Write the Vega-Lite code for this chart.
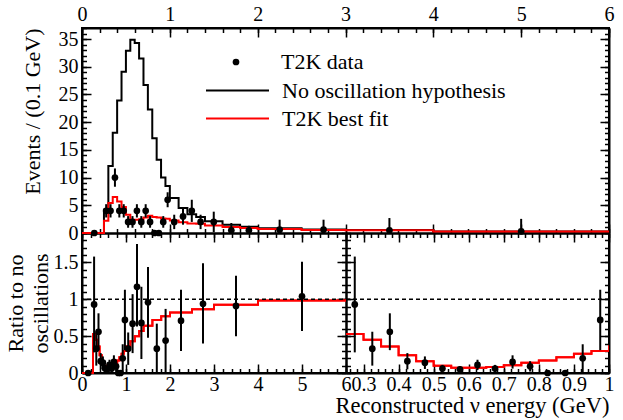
{
  "$schema": "https://vega.github.io/schema/vega-lite/v6.json",
  "width": 527,
  "height": 345,
  "autosize": {"type": "none"},
  "padding": {"left": 82, "top": 28, "right": 14, "bottom": 47},
  "background": "white",
  "config": {
    "view": {"stroke": "black", "strokeWidth": 2},
    "axis": {"domainColor": "black", "domainWidth": 2, "tickColor": "black", "tickWidth": 1.5, "labelFont": "Liberation Serif, serif", "labelFontSize": 20, "labelColor": "black", "titleFont": "Liberation Serif, serif", "titleFontSize": 22, "titleFontWeight": "normal", "titleColor": "black", "grid": false, "zindex": 1, "labelFlush": false, "labelOverlap": false},
    "legend": {"labelFont": "Liberation Serif, serif", "labelFontSize": 22, "labelColor": "black", "padding": 0, "labelLimit": 0}
  },
  "datasets": {
    "hist": [
      {"e": 0, "n": 0, "f": 0},
      {"e": 0.25, "n": 4.2, "f": 2.2},
      {"e": 0.3, "n": 12.1, "f": 5.4},
      {"e": 0.35, "n": 18.1, "f": 6.5},
      {"e": 0.4, "n": 23.9, "f": 5.7},
      {"e": 0.45, "n": 29.1, "f": 4.7},
      {"e": 0.5, "n": 32.9, "f": 3.3},
      {"e": 0.55, "n": 34.9, "f": 2.4},
      {"e": 0.6, "n": 34.3, "f": 2.4},
      {"e": 0.65, "n": 31.5, "f": 2.5},
      {"e": 0.7, "n": 26.7, "f": 2.8},
      {"e": 0.75, "n": 22.3, "f": 3.1},
      {"e": 0.8, "n": 17.1, "f": 2.9},
      {"e": 0.85, "n": 13.2, "f": 2.8},
      {"e": 0.9, "n": 10.0, "f": 2.6},
      {"e": 0.95, "n": 8.5, "f": 2.55},
      {"e": 1.0, "n": 6.3, "f": 2.27},
      {"e": 1.1, "n": 4.5, "f": 1.94},
      {"e": 1.2, "n": 3.4, "f": 1.7},
      {"e": 1.3, "n": 2.9, "f": 1.65},
      {"e": 1.4, "n": 2.1, "f": 1.34},
      {"e": 1.6, "n": 1.5, "f": 1.08},
      {"e": 1.8, "n": 1.14, "f": 0.88},
      {"e": 2.0, "n": 0.85, "f": 0.7},
      {"e": 2.5, "n": 0.64, "f": 0.55},
      {"e": 3.0, "n": 0.55, "f": 0.51},
      {"e": 4.0, "n": 0.29, "f": 0.286},
      {"e": 6.0, "n": 0.29, "f": 0.286}
    ],
    "pts": [
      {"e": 0.14, "v": 0, "lo": 0, "hi": 0},
      {"e": 0.275, "v": 4, "lo": 2.8, "hi": 5.2},
      {"e": 0.325, "v": 4, "lo": 2.8, "hi": 5.2},
      {"e": 0.375, "v": 10, "lo": 8.35, "hi": 11.65},
      {"e": 0.425, "v": 4, "lo": 2.8, "hi": 5.2},
      {"e": 0.475, "v": 4, "lo": 2.8, "hi": 5.2},
      {"e": 0.525, "v": 2, "lo": 0.95, "hi": 3.05},
      {"e": 0.575, "v": 2, "lo": 0.95, "hi": 3.05},
      {"e": 0.625, "v": 4, "lo": 2.8, "hi": 5.2},
      {"e": 0.675, "v": 2, "lo": 0.95, "hi": 3.05},
      {"e": 0.725, "v": 4, "lo": 2.8, "hi": 5.2},
      {"e": 0.775, "v": 2, "lo": 0.95, "hi": 3.05},
      {"e": 0.825, "v": 0, "lo": 0, "hi": 0},
      {"e": 0.875, "v": 0, "lo": 0, "hi": 0},
      {"e": 0.925, "v": 2, "lo": 0.95, "hi": 3.05},
      {"e": 0.975, "v": 6, "lo": 4.65, "hi": 7.35},
      {"e": 1.05, "v": 2, "lo": 0.7, "hi": 3.3},
      {"e": 1.15, "v": 3, "lo": 1.5, "hi": 4.5},
      {"e": 1.25, "v": 4, "lo": 2.0, "hi": 6.0},
      {"e": 1.35, "v": 2, "lo": 0.7, "hi": 3.3},
      {"e": 1.5, "v": 2, "lo": 0.15, "hi": 3.85},
      {"e": 1.7, "v": 0.5, "lo": 0, "hi": 1.8},
      {"e": 1.9, "v": 0.5, "lo": 0, "hi": 1.3},
      {"e": 2.25, "v": 0.6, "lo": 0, "hi": 2.4},
      {"e": 2.75, "v": 0.6, "lo": 0, "hi": 2.4},
      {"e": 3.5, "v": 0.5, "lo": 0, "hi": 2.7},
      {"e": 5.0, "v": 0.3, "lo": 0, "hi": 2.55}
    ],
    "ratio": [
      {"e": 0, "rr": 0},
      {"e": 0.25, "rr": 0.53},
      {"e": 0.3, "rr": 0.45},
      {"e": 0.35, "rr": 0.36},
      {"e": 0.4, "rr": 0.24},
      {"e": 0.45, "rr": 0.16},
      {"e": 0.5, "rr": 0.1},
      {"e": 0.55, "rr": 0.07},
      {"e": 0.6, "rr": 0.07},
      {"e": 0.65, "rr": 0.08},
      {"e": 0.7, "rr": 0.105},
      {"e": 0.75, "rr": 0.14},
      {"e": 0.8, "rr": 0.17},
      {"e": 0.85, "rr": 0.215},
      {"e": 0.9, "rr": 0.26},
      {"e": 0.95, "rr": 0.3},
      {"e": 1.0, "rr": 0.36},
      {"e": 1.1, "rr": 0.43},
      {"e": 1.2, "rr": 0.5},
      {"e": 1.3, "rr": 0.57},
      {"e": 1.4, "rr": 0.64},
      {"e": 1.6, "rr": 0.72},
      {"e": 1.8, "rr": 0.77},
      {"e": 2.0, "rr": 0.82},
      {"e": 2.5, "rr": 0.865},
      {"e": 3.0, "rr": 0.925},
      {"e": 4.0, "rr": 0.985},
      {"e": 6.0, "rr": 0.985}
    ],
    "rpts": [
      {"e": 0.14, "r": 0, "lo": 0, "hi": 0},
      {"e": 0.275, "r": 0.93, "lo": 0.28, "hi": 1.58},
      {"e": 0.325, "r": 0.33, "lo": 0.1, "hi": 0.56},
      {"e": 0.375, "r": 0.56, "lo": 0.31, "hi": 0.81},
      {"e": 0.425, "r": 0.16, "lo": 0.05, "hi": 0.27},
      {"e": 0.475, "r": 0.14, "lo": 0.055, "hi": 0.225},
      {"e": 0.525, "r": 0.06, "lo": 0.01, "hi": 0.11},
      {"e": 0.575, "r": 0.05, "lo": 0.01, "hi": 0.09},
      {"e": 0.625, "r": 0.11, "lo": 0.04, "hi": 0.18},
      {"e": 0.675, "r": 0.06, "lo": 0.01, "hi": 0.11},
      {"e": 0.725, "r": 0.15, "lo": 0.06, "hi": 0.24},
      {"e": 0.775, "r": 0.09, "lo": 0.02, "hi": 0.16},
      {"e": 0.825, "r": 0, "lo": 0, "hi": 0},
      {"e": 0.875, "r": 0, "lo": 0, "hi": 0},
      {"e": 0.925, "r": 0.2, "lo": 0.01, "hi": 0.39},
      {"e": 0.975, "r": 0.72, "lo": 0.31, "hi": 1.13},
      {"e": 1.05, "r": 0.33, "lo": 0.11, "hi": 0.55},
      {"e": 1.15, "r": 0.67, "lo": 0.27, "hi": 1.07},
      {"e": 1.25, "r": 1.17, "lo": 0.63, "hi": 1.75},
      {"e": 1.35, "r": 0.68, "lo": 0.19, "hi": 1.17},
      {"e": 1.5, "r": 0.96, "lo": 0.48, "hi": 1.44},
      {"e": 1.7, "r": 0.33, "lo": 0, "hi": 0.67},
      {"e": 1.9, "r": 0.44, "lo": 0, "hi": 0.87},
      {"e": 2.25, "r": 0.71, "lo": 0.3, "hi": 1.13},
      {"e": 2.75, "r": 0.94, "lo": 0.4, "hi": 1.49},
      {"e": 3.5, "r": 0.91, "lo": 0.5, "hi": 1.32},
      {"e": 5.0, "r": 1.04, "lo": 0.57, "hi": 1.51}
    ]
  },
  "layer": [
    {
      "layer": [
        {
          "data": {"name": "hist"},
          "mark": {"type": "line", "interpolate": "step-after", "strokeWidth": 2},
          "encoding": {
            "x": {"field": "e", "type": "quantitative", "scale": {"domain": [0, 6], "range": [0, 527], "nice": false, "zero": false}, "axis": {"orient": "top", "values": [0, 1, 2, 3, 4, 5, 6], "tickSize": -9, "labelPadding": 13, "title": null}},
            "y": {"field": "n", "type": "quantitative", "scale": {"domain": [0, 37], "range": [205, 0], "nice": false}, "axis": {"orient": "left", "values": [0, 5, 10, 15, 20, 25, 30, 35], "tickSize": -9, "labelPadding": 13, "title": "Events / (0.1 GeV)", "titleAnchor": "end", "titlePadding": 14}},
            "stroke": {"datum": "No oscillation hypothesis", "scale": {"range": ["black"]}, "legend": {"orient": "none", "legendX": 123, "legendY": 30, "symbolType": "stroke", "symbolSize": 3969, "symbolStrokeWidth": 2, "labelOffset": 12, "labelLimit": 0, "title": null}}
          }
        },
        {
          "data": {"name": "hist"},
          "mark": {"type": "line", "interpolate": "step-after", "strokeWidth": 2},
          "encoding": {
            "x": {"field": "e", "type": "quantitative", "scale": {"domain": [0, 6], "range": [0, 527], "nice": false, "zero": false}, "axis": {"orient": "bottom", "offset": -140, "values": [0, 1, 2, 3, 4, 5, 6], "tickSize": -9, "labels": false, "title": null}},
            "y": {"field": "f", "type": "quantitative", "scale": {"domain": [0, 37], "range": [205, 0], "nice": false}, "axis": {"orient": "right", "values": [0, 5, 10, 15, 20, 25, 30, 35], "tickSize": -9, "labels": false, "title": null}},
            "color": {"datum": "T2K best fit", "scale": {"range": ["#ff0000"]}, "legend": {"orient": "none", "legendX": 123, "legendY": 58, "symbolType": "stroke", "symbolSize": 3969, "symbolStrokeWidth": 2, "labelOffset": 12, "labelLimit": 0, "title": null}}
          }
        },
        {
          "data": {"name": "pts"},
          "mark": {"type": "rule", "strokeWidth": 2, "color": "black"},
          "encoding": {
            "x": {"field": "e", "type": "quantitative", "scale": {"domain": [0, 6], "range": [0, 527], "nice": false, "zero": false}, "axis": {"orient": "top", "values": [0, 0.2, 0.4, 0.6, 0.8, 1, 1.2, 1.4, 1.6, 1.8, 2, 2.2, 2.4, 2.6, 2.8, 3, 3.2, 3.4, 3.6, 3.8, 4, 4.2, 4.4, 4.6, 4.8, 5, 5.2, 5.4, 5.6, 5.8, 6], "tickSize": -4.5, "labels": false, "domain": false, "title": null}},
            "y": {"field": "lo", "type": "quantitative", "scale": {"domain": [0, 37], "range": [205, 0], "nice": false}, "axis": {"orient": "left", "values": [0, 1, 2, 3, 4, 5, 6, 7, 8, 9, 10, 11, 12, 13, 14, 15, 16, 17, 18, 19, 20, 21, 22, 23, 24, 25, 26, 27, 28, 29, 30, 31, 32, 33, 34, 35, 36, 37], "tickSize": -4.5, "labels": false, "domain": false, "title": null}},
            "y2": {"field": "hi"}
          }
        },
        {
          "data": {"name": "pts"},
          "mark": {"type": "point", "filled": true, "size": 45, "opacity": 1},
          "encoding": {
            "x": {"field": "e", "type": "quantitative", "scale": {"domain": [0, 6], "range": [0, 527], "nice": false, "zero": false}, "axis": {"orient": "bottom", "offset": -140, "values": [0, 0.2, 0.4, 0.6, 0.8, 1, 1.2, 1.4, 1.6, 1.8, 2, 2.2, 2.4, 2.6, 2.8, 3, 3.2, 3.4, 3.6, 3.8, 4, 4.2, 4.4, 4.6, 4.8, 5, 5.2, 5.4, 5.6, 5.8, 6], "tickSize": -4.5, "labels": false, "domain": false, "title": null}},
            "y": {"field": "v", "type": "quantitative", "scale": {"domain": [0, 37], "range": [205, 0], "nice": false}, "axis": {"orient": "right", "values": [0, 1, 2, 3, 4, 5, 6, 7, 8, 9, 10, 11, 12, 13, 14, 15, 16, 17, 18, 19, 20, 21, 22, 23, 24, 25, 26, 27, 28, 29, 30, 31, 32, 33, 34, 35, 36, 37], "tickSize": -4.5, "labels": false, "domain": false, "title": null}},
            "fill": {"datum": "T2K data", "scale": {"range": ["black"]}, "legend": {"orient": "none", "legendX": 143, "legendY": 23, "symbolType": "circle", "symbolSize": 45, "symbolStrokeWidth": 0, "labelOffset": 34, "labelLimit": 0, "title": null}}
          }
        }
      ],
      "resolve": {"axis": {"x": "independent", "y": "independent"}}
    },
    {
      "layer": [
        {
          "data": {"name": "ratio"},
          "mark": {"type": "line", "interpolate": "step-after", "strokeWidth": 2, "color": "#ff0000"},
          "encoding": {
            "x": {"field": "e", "type": "quantitative", "scale": {"domain": [0, 6], "range": [0, 264], "nice": false, "zero": false}, "axis": {"orient": "bottom", "values": [0, 1, 2, 3, 4, 5, 6], "tickSize": -9, "labelPadding": 10, "title": null}},
            "y": {"field": "rr", "type": "quantitative", "scale": {"domain": [0, 1.9], "range": [345, 205], "nice": false}, "axis": {"orient": "left", "values": [0, 0.5, 1, 1.5], "format": "~g", "tickSize": -9, "labelPadding": 13, "title": ["Ratio to no", "oscillations"], "titleLineHeight": 25, "titlePadding": 1}}
          }
        },
        {
          "data": {"name": "ratio"},
          "mark": {"type": "line", "interpolate": "step-after", "strokeWidth": 2, "color": "#ff0000"},
          "encoding": {
            "x": {"field": "e", "type": "quantitative", "scale": {"domain": [0, 6], "range": [0, 264], "nice": false, "zero": false}, "axis": {"orient": "top", "offset": -205, "values": [0, 0.2, 0.4, 0.6, 0.8, 1, 1.2, 1.4, 1.6, 1.8, 2, 2.2, 2.4, 2.6, 2.8, 3, 3.2, 3.4, 3.6, 3.8, 4, 4.2, 4.4, 4.6, 4.8, 5, 5.2, 5.4, 5.6, 5.8, 6], "tickSize": -4.5, "labels": false, "domain": false, "title": null}},
            "y": {"field": "rr", "type": "quantitative", "scale": {"domain": [0, 1.9], "range": [345, 205], "nice": false}, "axis": {"orient": "right", "offset": -263, "values": [0, 0.1, 0.2, 0.3, 0.4, 0.5, 0.6, 0.7, 0.8, 0.9, 1, 1.1, 1.2, 1.3, 1.4, 1.5, 1.6, 1.7, 1.8, 1.9], "tickSize": -4.5, "labels": false, "domain": false, "title": null}}
          }
        },
        {
          "data": {"values": [{}]},
          "mark": {"type": "rule", "strokeDash": [4, 3], "strokeWidth": 1.5, "color": "black"},
          "encoding": {
            "y": {"datum": 1, "type": "quantitative", "scale": {"domain": [0, 1.9], "range": [345, 205], "nice": false}, "axis": null}
          }
        },
        {
          "data": {"name": "rpts"},
          "mark": {"type": "rule", "strokeWidth": 2, "color": "black"},
          "encoding": {
            "x": {"field": "e", "type": "quantitative", "scale": {"domain": [0, 6], "range": [0, 264], "nice": false, "zero": false}, "axis": {"orient": "top", "offset": -205, "values": [0, 1, 2, 3, 4, 5, 6], "tickSize": -9, "labels": false, "title": null}},
            "y": {"field": "lo", "type": "quantitative", "scale": {"domain": [0, 1.9], "range": [345, 205], "nice": false}, "axis": {"orient": "right", "offset": -263, "values": [0, 0.5, 1, 1.5], "tickSize": -9, "labels": false, "title": null}},
            "y2": {"field": "hi"}
          }
        },
        {
          "data": {"name": "rpts"},
          "mark": {"type": "point", "filled": true, "size": 45, "opacity": 1, "color": "black"},
          "encoding": {
            "x": {"field": "e", "type": "quantitative", "scale": {"domain": [0, 6], "range": [0, 264], "nice": false, "zero": false}, "axis": {"orient": "bottom", "values": [0, 0.2, 0.4, 0.6, 0.8, 1, 1.2, 1.4, 1.6, 1.8, 2, 2.2, 2.4, 2.6, 2.8, 3, 3.2, 3.4, 3.6, 3.8, 4, 4.2, 4.4, 4.6, 4.8, 5, 5.2, 5.4, 5.6, 5.8, 6], "tickSize": -4.5, "labels": false, "domain": false, "title": null}},
            "y": {"field": "r", "type": "quantitative", "scale": {"domain": [0, 1.9], "range": [345, 205], "nice": false}, "axis": {"orient": "left", "values": [0, 0.1, 0.2, 0.3, 0.4, 0.5, 0.6, 0.7, 0.8, 0.9, 1, 1.1, 1.2, 1.3, 1.4, 1.5, 1.6, 1.7, 1.8, 1.9], "tickSize": -4.5, "labels": false, "domain": false, "title": null}}
          }
        }
      ],
      "resolve": {"axis": {"x": "independent", "y": "independent"}}
    },
    {
      "layer": [
        {
          "data": {"name": "ratio"},
          "transform": [{"filter": "datum.e >= 0.25 && datum.e <= 1.1"}],
          "mark": {"type": "line", "interpolate": "step-after", "strokeWidth": 2, "color": "#ff0000", "clip": true},
          "encoding": {
            "x": {"field": "e", "type": "quantitative", "scale": {"domain": [0.25, 1], "range": [264, 527], "nice": false, "zero": false}, "axis": {"orient": "bottom", "values": [0.3, 0.4, 0.5, 0.6, 0.7, 0.8, 0.9, 1], "format": ".1~f", "tickSize": -9, "labelPadding": 10, "title": "Reconstructed ν energy (GeV)", "titleFontSize": 22.5, "titleAnchor": "end", "titlePadding": 0}},
            "y": {"field": "rr", "type": "quantitative", "scale": {"domain": [0, 1.9], "range": [345, 205], "nice": false}, "axis": {"orient": "left", "offset": -264, "values": [0, 0.5, 1, 1.5], "tickSize": -9, "labels": false, "title": null}}
          }
        },
        {
          "data": {"name": "ratio"},
          "transform": [{"filter": "datum.e >= 0.25 && datum.e <= 1.1"}],
          "mark": {"type": "line", "interpolate": "step-after", "strokeWidth": 2, "color": "#ff0000", "clip": true},
          "encoding": {
            "x": {"field": "e", "type": "quantitative", "scale": {"domain": [0.25, 1], "range": [264, 527], "nice": false, "zero": false}, "axis": {"orient": "top", "offset": -205, "values": [0.26, 0.28, 0.3, 0.32, 0.34, 0.36, 0.38, 0.4, 0.42, 0.44, 0.46, 0.48, 0.5, 0.52, 0.54, 0.56, 0.58, 0.6, 0.62, 0.64, 0.66, 0.68, 0.7, 0.72, 0.74, 0.76, 0.78, 0.8, 0.82, 0.84, 0.86, 0.88, 0.9, 0.92, 0.94, 0.96, 0.98, 1], "tickSize": -4.5, "labels": false, "domain": false, "title": null}},
            "y": {"field": "rr", "type": "quantitative", "scale": {"domain": [0, 1.9], "range": [345, 205], "nice": false}, "axis": {"orient": "right", "values": [0, 0.1, 0.2, 0.3, 0.4, 0.5, 0.6, 0.7, 0.8, 0.9, 1, 1.1, 1.2, 1.3, 1.4, 1.5, 1.6, 1.7, 1.8, 1.9], "tickSize": -4.5, "labels": false, "domain": false, "title": null}}
          }
        },
        {
          "data": {"name": "rpts"},
          "transform": [{"filter": "datum.e >= 0.25 && datum.e <= 1"}],
          "mark": {"type": "rule", "strokeWidth": 2, "color": "black"},
          "encoding": {
            "x": {"field": "e", "type": "quantitative", "scale": {"domain": [0.25, 1], "range": [264, 527], "nice": false, "zero": false}, "axis": {"orient": "top", "offset": -205, "values": [0.3, 0.4, 0.5, 0.6, 0.7, 0.8, 0.9, 1], "tickSize": -9, "labels": false, "title": null}},
            "y": {"field": "lo", "type": "quantitative", "scale": {"domain": [0, 1.9], "range": [345, 205], "nice": false}, "axis": {"orient": "right", "values": [0, 0.5, 1, 1.5], "tickSize": -9, "labels": false, "title": null}},
            "y2": {"field": "hi"}
          }
        },
        {
          "data": {"name": "rpts"},
          "transform": [{"filter": "datum.e >= 0.25 && datum.e <= 1"}],
          "mark": {"type": "point", "filled": true, "size": 45, "opacity": 1, "color": "black"},
          "encoding": {
            "x": {"field": "e", "type": "quantitative", "scale": {"domain": [0.25, 1], "range": [264, 527], "nice": false, "zero": false}, "axis": {"orient": "bottom", "values": [0.26, 0.28, 0.3, 0.32, 0.34, 0.36, 0.38, 0.4, 0.42, 0.44, 0.46, 0.48, 0.5, 0.52, 0.54, 0.56, 0.58, 0.6, 0.62, 0.64, 0.66, 0.68, 0.7, 0.72, 0.74, 0.76, 0.78, 0.8, 0.82, 0.84, 0.86, 0.88, 0.9, 0.92, 0.94, 0.96, 0.98, 1], "tickSize": -4.5, "labels": false, "domain": false, "title": null}},
            "y": {"field": "r", "type": "quantitative", "scale": {"domain": [0, 1.9], "range": [345, 205], "nice": false}, "axis": {"orient": "left", "offset": -264, "values": [0, 0.1, 0.2, 0.3, 0.4, 0.5, 0.6, 0.7, 0.8, 0.9, 1, 1.1, 1.2, 1.3, 1.4, 1.5, 1.6, 1.7, 1.8, 1.9], "tickSize": -4.5, "labels": false, "domain": false, "title": null}}
          }
        }
      ],
      "resolve": {"axis": {"x": "independent", "y": "independent"}}
    }
  ],
  "resolve": {"scale": {"x": "independent", "y": "independent"}, "axis": {"x": "independent", "y": "independent"}}
}
